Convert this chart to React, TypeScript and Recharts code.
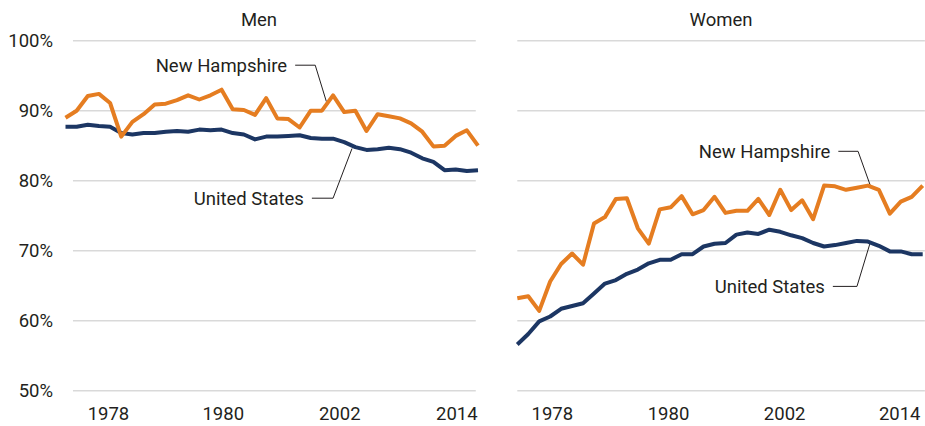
import { Line, LineChart, ReferenceDot, ReferenceLine, XAxis, YAxis } from "recharts";

// values, one point per year (38 years)
const menNH = [
  89.0, 90.0, 92.1, 92.4, 91.1, 86.3, 88.4, 89.5, 90.9, 91.0,
  91.5, 92.2, 91.6, 92.2, 93.0, 90.2, 90.1, 89.4, 91.8, 88.9,
  88.8, 87.6, 90.0, 90.0, 92.2, 89.8, 90.0, 87.1, 89.5, 89.2,
  88.9, 88.2, 87.0, 84.9, 85.0, 86.4, 87.2, 85.0,
];
const menUS = [
  87.7, 87.7, 88.0, 87.8, 87.7, 86.8, 86.6, 86.8, 86.8, 87.0,
  87.1, 87.0, 87.3, 87.2, 87.3, 86.8, 86.6, 85.9, 86.3, 86.3,
  86.4, 86.5, 86.1, 86.0, 86.0, 85.5, 84.8, 84.4, 84.5, 84.7,
  84.5, 84.0, 83.2, 82.7, 81.5, 81.6, 81.4, 81.5,
];
const womenNH = [
  63.2, 63.5, 61.4, 65.6, 68.1, 69.6, 68.0, 73.9, 74.8, 77.4,
  77.5, 73.2, 71.0, 75.9, 76.2, 77.8, 75.2, 75.8, 77.7, 75.4,
  75.7, 75.7, 77.4, 75.1, 78.7, 75.8, 77.2, 74.5, 79.3, 79.2,
  78.7, 79.0, 79.3, 78.7, 75.3, 77.0, 77.7, 79.3,
];
const womenUS = [
  56.6, 58.1, 59.9, 60.6, 61.7, 62.1, 62.5, 63.9, 65.3, 65.8,
  66.7, 67.3, 68.2, 68.7, 68.7, 69.5, 69.5, 70.6, 71.0, 71.1,
  72.3, 72.6, 72.4, 73.0, 72.7, 72.2, 71.8, 71.1, 70.6, 70.8,
  71.1, 71.4, 71.3, 70.7, 69.9, 69.9, 69.5, 69.5,
];

const tickLabels = ["1978", "1980", "2002", "2014"];
const menTickPos = [3.85, 14.15, 24.6, 35.1];
const womenTickPos = [3.2, 13.8, 24.4, 34.9];
const yTicks = [50, 60, 70, 80, 90, 100];

const ORANGE = "#E57D21";
const NAVY = "#1C3663";
const GRID = "#d9d9d9";
const INK = "#231f20";
const FONT = "Roboto, 'Liberation Sans', sans-serif";
const FS = 18.5;

type Note = { text: string; at: [number, number]; path: [number, number][] };

function Panel(props: {
  nh: number[];
  us: number[];
  tickPos: number[];
  gridFrom: number;
  gridTo: number;
  showY: boolean;
  width: number;
  margin: { top: number; right: number; bottom: number; left: number };
  notes: Note[];
}) {
  const { nh, us, tickPos, gridFrom, gridTo, showY, width, margin, notes } = props;
  const rows = nh.map((v, i) => ({ i, nh: v, us: us[i] }));

  return (
    <LineChart width={width} height={426} data={rows} margin={margin}>
      <XAxis
        type="number"
        dataKey="i"
        domain={[0, rows.length - 1]}
        ticks={tickPos}
        interval={0}
        tickFormatter={(v: number) => tickLabels[tickPos.indexOf(v)] ?? ""}
        axisLine={false}
        tickLine={false}
        tickSize={0}
        tickMargin={16}
        height={30}
        tick={{ fill: INK, fontSize: FS, fontFamily: FONT }}
      />
      <YAxis
        domain={[50, 100]}
        ticks={yTicks}
        hide={!showY}
        width={60}
        axisLine={false}
        tickLine={false}
        tickSize={0}
        tickMargin={12.5}
        tickFormatter={(v: number) => `${v}%`}
        tick={{ fill: INK, fontSize: FS, fontFamily: FONT }}
      />
      {yTicks.map((t) => (
        <ReferenceLine
          key={t}
          segment={[{ x: gridFrom, y: t }, { x: gridTo, y: t }]}
          stroke={GRID}
          strokeWidth={1.5}
          ifOverflow="visible"
        />
      ))}
      {notes.map((n) =>
        n.path.slice(1).map((p, k) => (
          <ReferenceLine
            key={n.text + k}
            segment={[
              { x: n.path[k][0], y: n.path[k][1] },
              { x: p[0], y: p[1] },
            ]}
            stroke={INK}
            strokeWidth={1}
            ifOverflow="visible"
          />
        ))
      )}
      {notes.map((n) => (
        <ReferenceDot
          key={n.text}
          x={n.at[0]}
          y={n.at[1]}
          r={0}
          stroke="none"
          fill="none"
          ifOverflow="visible"
          label={{
            value: n.text,
            position: "left",
            offset: 8,
            fill: INK,
            fontSize: FS,
            fontFamily: FONT,
          }}
        />
      ))}
      <Line
        dataKey="us"
        stroke={NAVY}
        strokeWidth={4}
        dot={false}
        isAnimationActive={false}
        strokeLinejoin="round"
      />
      <Line
        dataKey="nh"
        stroke={ORANGE}
        strokeWidth={4}
        dot={false}
        isAnimationActive={false}
        strokeLinejoin="round"
      />
    </LineChart>
  );
}

const titleStyle = {
  position: "absolute" as const,
  top: 9,
  width: 120,
  textAlign: "center" as const,
  fontFamily: FONT,
  fontSize: FS,
  lineHeight: "22px",
  color: INK,
};

export default function App() {
  return (
    <div style={{ position: "absolute", left: 0, top: 0, width: 925, height: 426, background: "#fff" }}>
      <div style={{ ...titleStyle, left: 259 - 60 }}>Men</div>
      <div style={{ ...titleStyle, left: 721 - 60 }}>Women</div>
      <div style={{ position: "absolute", left: 0, top: 0 }}>
        <Panel
          nh={menNH}
          us={menUS}
          tickPos={menTickPos}
          gridFrom={0.67}
          gridTo={36.8}
          showY
          width={490}
          margin={{ top: 40.7, right: 12, bottom: 5.3, left: 5.5 }}
          notes={[
            { text: "New Hampshire", at: [20.6, 96.5], path: [[20.6, 96.5], [22.4, 96.5], [23.4, 91.3]] },
            { text: "United States", at: [22.1, 77.5], path: [[22.1, 77.5], [24.0, 77.5], [25.7, 84.6]] },
          ]}
        />
      </div>
      <div style={{ position: "absolute", left: 500, top: 0 }}>
        <Panel
          nh={womenNH}
          us={womenUS}
          tickPos={womenTickPos}
          gridFrom={0}
          gridTo={37.2}
          showY={false}
          width={425}
          margin={{ top: 40.7, right: 2.3, bottom: 5.3, left: 17.3 }}
          notes={[
            { text: "New Hampshire", at: [29.3, 84.2], path: [[29.3, 84.2], [31.1, 84.2], [32.2, 79.4]] },
            { text: "United States", at: [28.8, 64.9], path: [[28.8, 64.9], [31.0, 64.9], [32.2, 71.1]] },
          ]}
        />
      </div>
    </div>
  );
}
